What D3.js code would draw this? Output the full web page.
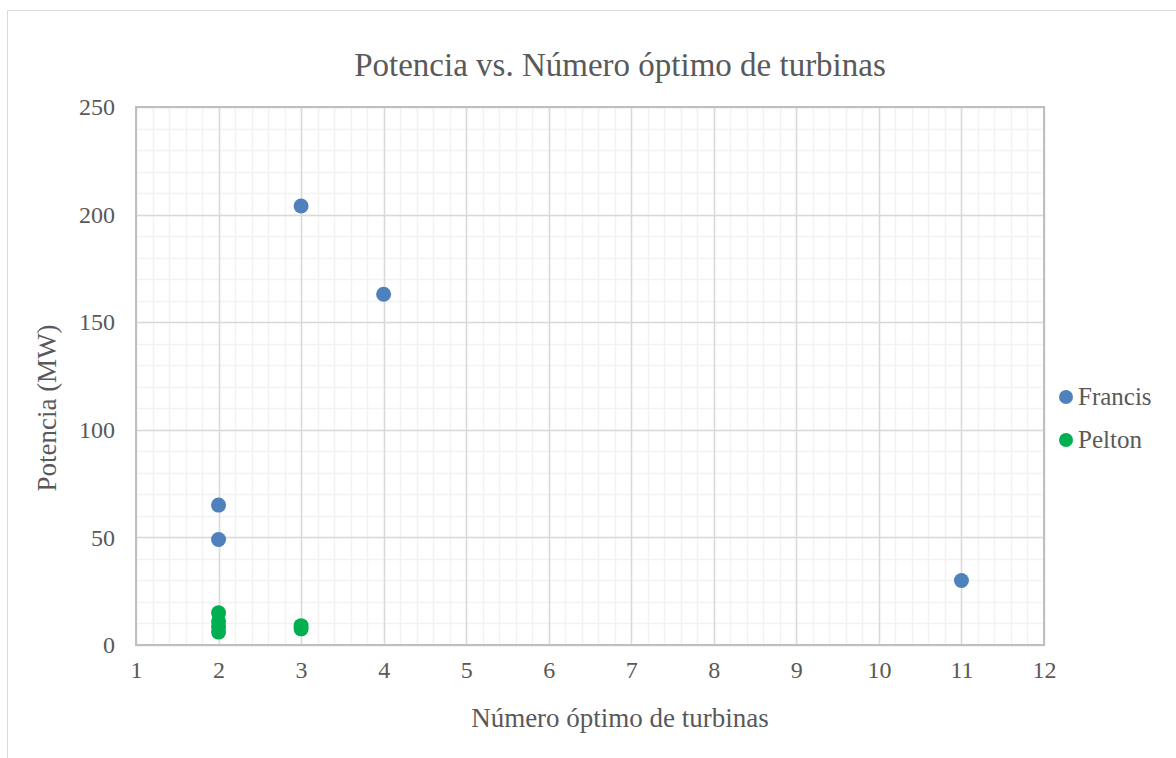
<!DOCTYPE html>
<html>
<head>
<meta charset="utf-8">
<script src="https://cdn.jsdelivr.net/npm/d3@7"></script>
<style>
  body { margin: 0; background: #fff; }
  text { font-family: "Liberation Serif", "Times New Roman", serif; fill: #595959; }
</style>
</head>
<body>
<div id="chart"></div>
<script>
var titleText = "Potencia vs. Número óptimo de turbinas";
var xTitle = "Número óptimo de turbinas";
var yTitle = "Potencia (MW)";

var seriesNames = ["Francis", "Pelton"];
var seriesColors = ["#4f81bd", "#00b050"];

var francisX = [2, 2, 3, 4, 11];
var francisY = [65, 49, 204, 163, 30];
var peltonX = [2, 2, 2, 2, 3, 3];
var peltonY = [15, 11, 8.5, 6, 9, 7.5];

var xTicks = [1, 2, 3, 4, 5, 6, 7, 8, 9, 10, 11, 12];
var yTicks = [0, 50, 100, 150, 200, 250];

var width = 1176, height = 758;
var plotLeft = 136, plotRight = 1044, plotTop = 107, plotBottom = 645;

var svg = d3.select("#chart").append("svg")
  .attr("width", width)
  .attr("height", height);

// chart frame
svg.append("path")
  .attr("d", "M7.5," + height + "V10.5H" + width)
  .attr("fill", "none")
  .attr("stroke", "#d9d9d9");

var x = d3.scaleLinear().domain([1, 12]).range([plotLeft, plotRight]);
var y = d3.scaleLinear().domain([0, 250]).range([plotBottom, plotTop]);

// minor grid
var xMinor = d3.range(1, 12.001, 0.2);
var yMinor = d3.range(0, 250.001, 10);
svg.append("g").selectAll("line")
  .data(xMinor).enter().append("line")
  .attr("x1", function(d) { return Math.round(x(d)) + 0.5; })
  .attr("x2", function(d) { return Math.round(x(d)) + 0.5; })
  .attr("y1", plotTop).attr("y2", plotBottom)
  .attr("stroke", "#f2f2f2").attr("stroke-width", 1.5);
svg.append("g").selectAll("line")
  .data(yMinor).enter().append("line")
  .attr("y1", function(d) { return Math.round(y(d)) + 0.5; })
  .attr("y2", function(d) { return Math.round(y(d)) + 0.5; })
  .attr("x1", plotLeft).attr("x2", plotRight)
  .attr("stroke", "#f2f2f2").attr("stroke-width", 1.5);

// major grid
svg.append("g").selectAll("line")
  .data(xTicks).enter().append("line")
  .attr("x1", function(d) { return Math.round(x(d)) + 0.5; })
  .attr("x2", function(d) { return Math.round(x(d)) + 0.5; })
  .attr("y1", plotTop).attr("y2", plotBottom)
  .attr("stroke", "#d9d9d9").attr("stroke-width", 1.5);
svg.append("g").selectAll("line")
  .data(yTicks).enter().append("line")
  .attr("y1", function(d) { return Math.round(y(d)) + 0.5; })
  .attr("y2", function(d) { return Math.round(y(d)) + 0.5; })
  .attr("x1", plotLeft).attr("x2", plotRight)
  .attr("stroke", "#d9d9d9").attr("stroke-width", 1.5);

// plot border
svg.append("rect")
  .attr("x", plotLeft).attr("y", plotTop)
  .attr("width", plotRight - plotLeft).attr("height", plotBottom - plotTop)
  .attr("fill", "none")
  .attr("stroke", "#bfbfbf").attr("stroke-width", 2);

// axes labels
var xAxis = svg.append("g")
  .attr("transform", "translate(0," + plotBottom + ")")
  .call(d3.axisBottom(x).tickValues(xTicks).tickSize(0).tickPadding(16));
var yAxis = svg.append("g")
  .attr("transform", "translate(" + plotLeft + ",0)")
  .call(d3.axisLeft(y).tickValues(yTicks).tickSize(0).tickPadding(21));
[xAxis, yAxis].forEach(function(a) {
  a.select(".domain").remove();
  a.selectAll("text")
    .style("font-family", "'Liberation Serif', serif")
    .style("font-size", "24px")
    .attr("fill", "#595959");
});

// points
function drawSeries(xs, ys, color) {
  svg.append("g").selectAll("circle")
    .data(xs).enter().append("circle")
    .attr("cx", function(d) { return x(d); })
    .attr("cy", function(d, i) { return y(ys[i]); })
    .attr("r", 7.5)
    .attr("fill", color);
}
drawSeries(peltonX, peltonY, seriesColors[1]);
drawSeries(francisX, francisY, seriesColors[0]);

// title
svg.append("text")
  .attr("x", 620).attr("y", 76)
  .attr("text-anchor", "middle")
  .style("font-size", "33px")
  .text(titleText);

svg.append("text")
  .attr("x", 620).attr("y", 727)
  .attr("text-anchor", "middle")
  .style("font-size", "27px")
  .text(xTitle);

svg.append("text")
  .attr("transform", "translate(56,408) rotate(-90)")
  .attr("text-anchor", "middle")
  .style("font-size", "27px")
  .text(yTitle);

// legend
var legend = svg.append("g").selectAll("g")
  .data(seriesNames).enter().append("g")
  .attr("transform", function(d, i) { return "translate(1066," + (397 + i * 43) + ")"; });
legend.append("circle")
  .attr("r", 7)
  .attr("fill", function(d, i) { return seriesColors[i]; });
legend.append("text")
  .attr("x", 12).attr("y", 8)
  .style("font-size", "25px")
  .text(function(d) { return d; });
</script>
</body>
</html>
